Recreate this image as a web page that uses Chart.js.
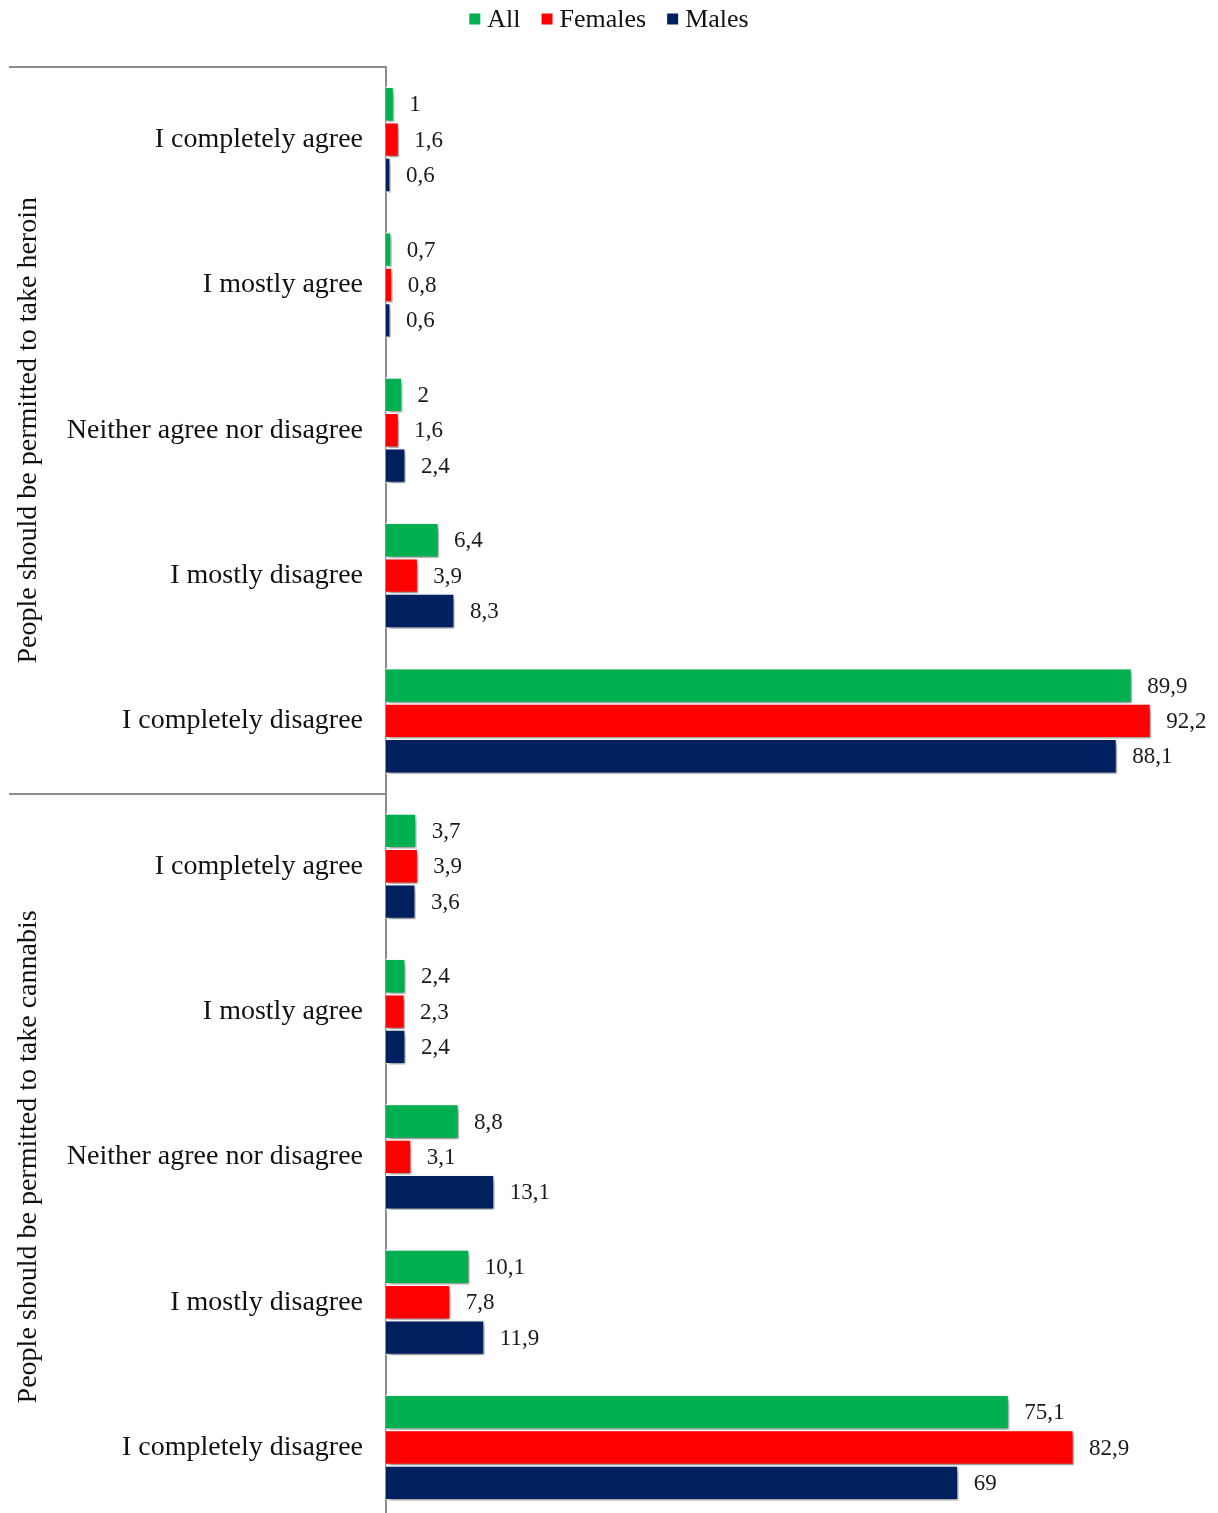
<!DOCTYPE html>
<html>
<head>
<meta charset="utf-8">
<script src="https://cdn.jsdelivr.net/npm/chart.js@4.4.1/dist/chart.umd.min.js"></script>
<style>
  html, body { margin: 0; padding: 0; background: #fff; overflow: hidden; }
  #wrap { width: 1218px; height: 1513px; overflow: hidden; }
</style>
</head>
<body>
<div id="wrap"><canvas id="chart" width="1218" height="1560"></canvas></div>
<script>
// Survey answers, percent of respondents
const groups = [
  'People should be permitted to take heroin',
  'People should be permitted to take cannabis'
];
const answers = [
  'I completely agree',
  'I mostly agree',
  'Neither agree nor disagree',
  'I mostly disagree',
  'I completely disagree'
];
const categories = [...answers, ...answers];

const seriesNames = ['All', 'Females', 'Males'];
const allValues     = [1, 0.7, 2, 6.4, 89.9, 3.7, 2.4, 8.8, 10.1, 75.1];
const femaleValues  = [1.6, 0.8, 1.6, 3.9, 92.2, 3.9, 2.3, 3.1, 7.8, 82.9];
const maleValues    = [0.6, 0.6, 2.4, 8.3, 88.1, 3.6, 2.4, 13.1, 11.9, 69];

const colors = ['#00B050', '#FF0000', '#002060'];
const SERIF = '"Liberation Serif", "Times New Roman", serif';
const AXIS_GREY = '#8c8c8c';

const fmt = v => String(v).replace('.', ',');

// Soft drop shadow under the bars
const barShadow = {
  id: 'barShadow',
  beforeDatasetsDraw(chart) {
    const ctx = chart.ctx;
    ctx.save();
    ctx.shadowColor = 'rgba(0,0,0,0.45)';
    ctx.shadowBlur = 5;
    ctx.shadowOffsetX = 2;
    ctx.shadowOffsetY = 3;
  },
  afterDatasetsDraw(chart) {
    chart.ctx.restore();
  }
};

// Value labels to the right of each bar
const valueLabels = {
  id: 'valueLabels',
  afterDatasetsDraw(chart) {
    const ctx = chart.ctx;
    ctx.save();
    ctx.font = '23px ' + SERIF;
    ctx.fillStyle = '#1a1a1a';
    ctx.textAlign = 'left';
    ctx.textBaseline = 'middle';
    chart.data.datasets.forEach((ds, di) => {
      const meta = chart.getDatasetMeta(di);
      meta.data.forEach((bar, i) => {
        ctx.fillText(fmt(ds.data[i]), bar.x + 15, bar.y + 1);
      });
    });
    ctx.restore();
  }
};

// Centered legend row: small square swatch, then the series name
const legendRow = {
  id: 'legendRow',
  afterDraw(chart) {
    const ctx = chart.ctx;
    const box = 11, gap = 7, spacing = 21, cy = 19;
    ctx.save();
    ctx.font = '26px ' + SERIF;
    ctx.textBaseline = 'middle';
    ctx.textAlign = 'left';
    const items = chart.data.datasets.map(ds => ({
      text: ds.label, color: ds.backgroundColor,
      w: box + gap + ctx.measureText(ds.label).width
    }));
    const total = items.reduce((s, it) => s + it.w, 0) + spacing * (items.length - 1);
    let x = chart.width / 2 - total / 2;
    items.forEach(it => {
      ctx.fillStyle = it.color;
      ctx.fillRect(x, cy - box / 2, box, box);
      ctx.fillStyle = '#111';
      ctx.fillText(it.text, x + box + gap, cy + 1);
      x += it.w + spacing;
    });
    ctx.restore();
  }
};

// Group brackets and rotated group titles on the left
const groupTitles = {
  id: 'groupTitles',
  afterDraw(chart) {
    const ctx = chart.ctx;
    const y = chart.scales.y;
    const left = y.right;
    const per = answers.length;
    const band = y.getPixelForValue(1) - y.getPixelForValue(0);
    ctx.save();
    ctx.strokeStyle = AXIS_GREY;
    ctx.lineWidth = 2;
    for (let g = 0; g <= groups.length; g++) {
      const py = Math.round(y.getPixelForValue(g * per) - band / 2);
      ctx.beginPath();
      ctx.moveTo(9, py);
      ctx.lineTo(left, py);
      ctx.stroke();
    }
    ctx.fillStyle = '#111';
    ctx.font = '28px ' + SERIF;
    ctx.textAlign = 'center';
    ctx.textBaseline = 'middle';
    groups.forEach((name, g) => {
      const top = y.getPixelForValue(g * per) - band / 2;
      const bottom = y.getPixelForValue((g + 1) * per - 1) + band / 2;
      ctx.save();
      ctx.translate(29, (top + bottom) / 2);
      ctx.rotate(-Math.PI / 2);
      ctx.fillText(name, 0, 0);
      ctx.restore();
    });
    ctx.restore();
  }
};

new Chart(document.getElementById('chart'), {
  type: 'bar',
  data: {
    labels: categories,
    datasets: [allValues, femaleValues, maleValues].map((vals, i) => ({
      label: seriesNames[i],
      data: vals,
      backgroundColor: colors[i],
      borderColor: '#ffffff',
      borderWidth: 1.5,
      categoryPercentage: 0.73,
      barPercentage: 1.0
    }))
  },
  options: {
    indexAxis: 'y',
    responsive: false,
    animation: false,
    layout: { padding: { top: 0, right: 2, bottom: 0, left: 0 } },
    plugins: {
      tooltip: { enabled: false },
      legend: { display: false }
    },
    scales: {
      x: {
        position: 'top',
        min: 0,
        max: 100,
        grid: { display: false, drawTicks: false },
        border: { display: false },
        ticks: { display: false },
        afterFit(scale) { scale.height = 67; }
      },
      y: {
        grid: { display: false, drawTicks: false },
        border: { display: true, color: AXIS_GREY, width: 2 },
        ticks: {
          color: '#111',
          padding: 23,
          font: { family: SERIF, size: 28 }
        },
        afterFit(scale) { scale.width = 386; }
      }
    }
  },
  plugins: [barShadow, valueLabels, legendRow, groupTitles]
});
</script>
</body>
</html>
